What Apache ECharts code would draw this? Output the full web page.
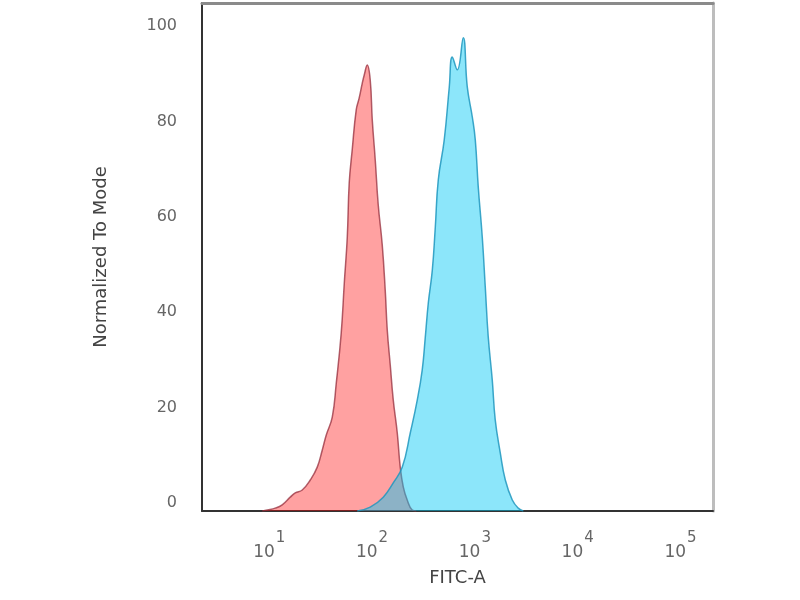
<!DOCTYPE html>
<html>
<head>
<meta charset="utf-8">
<script src="https://cdn.jsdelivr.net/npm/echarts@6/dist/echarts.min.js"></script>
<style>
html,body{margin:0;padding:0;background:#fff;}
#chart{width:800px;height:600px;}
</style>
</head>
<body>
<div id="chart"></div>
<script>
// x values are log10(FITC-A), y values are % of mode
const xTickExponents = [1, 2, 3, 4, 5];
const yTickLabels = [0, 20, 40, 60, 80, 100];

const controlLog = [0.932,0.981,1.058,1.126,1.204,1.253,1.321,1.399,1.467,1.516,1.554,1.613,1.652,1.700,1.730,1.759,1.778,1.807,1.846,1.875,1.905,1.924,1.953,1.982,2.002,2.031,2.060,2.099,2.128,2.148,2.177,2.206,2.245,2.274,2.304,2.342,2.391,2.430];
const controlPct = [0,0.2,0.6,1.3,2.9,3.8,4.4,6.5,9.2,12.8,15.9,19.7,26.8,37.3,47.8,57.4,68.8,75.7,84.1,86.6,89.7,91.4,93.5,90.4,82.0,73.6,64.2,55.8,46.3,37.9,30.6,23.3,16.4,9.2,5.0,2.3,0.2,0];

const stainedLog = [1.856,1.982,2.109,2.206,2.294,2.372,2.440,2.488,2.518,2.547,2.586,2.615,2.644,2.702,2.751,2.780,2.829,2.887,2.926,2.975,3.004,3.033,3.072,3.101,3.130,3.169,3.198,3.247,3.296,3.364,3.422,3.471];
const stainedPct = [0,0.8,2.9,5.9,9.2,16.4,23.3,29.6,36.5,43.6,50.5,59.5,69.4,77.8,88.9,95.2,92.5,99.2,88.9,82.6,77.8,67.9,57.4,47.0,36.5,27.5,19.1,12.2,6.5,2.3,0.6,0];

const X_MIN = 0.346, X_MAX = 5.316;
const Y_MIN = 0, Y_MAX = 106.5;

const zip = (a, b) => a.map((v, i) => [v, b[i]]);

const chart = echarts.init(document.getElementById('chart'));
chart.setOption({
  animation: false,
  backgroundColor: '#ffffff',
  grid: { left: 202, right: 87, top: 3, bottom: 89, show: false },
  xAxis: [{
    type: 'value', min: X_MIN, max: X_MAX, position: 'bottom',
    name: 'FITC-A', nameLocation: 'middle', nameGap: 58,
    nameTextStyle: { fontFamily: 'DejaVu Sans', fontSize: 18, color: '#444' },
    axisLine: { show: true, onZero: false, lineStyle: { color: '#333', width: 2 } },
    axisTick: { show: false }, splitLine: { show: false },
    axisLabel: {
      margin: 16, showMinLabel: false, showMaxLabel: false,
      formatter: v => {
        const k = Math.round(v);
        if (Math.abs(v - k) > 1e-6 || xTickExponents.indexOf(k) < 0) return '';
        return '{b|10}{s|' + k + '}';
      },
      rich: {
        b: { fontFamily: 'DejaVu Sans', fontSize: 17, color: '#666', lineHeight: 34, verticalAlign: 'bottom' },
        s: { fontFamily: 'DejaVu Sans', fontSize: 15, color: '#666', lineHeight: 34, verticalAlign: 'top', padding: [4, 0, 0, 1] }
      }
    }
  }, {
    type: 'value', min: X_MIN, max: X_MAX, position: 'top',
    axisLine: { show: true, onZero: false, lineStyle: { color: '#8a8a8a', width: 3 } },
    axisTick: { show: false }, axisLabel: { show: false }, splitLine: { show: false }
  }],
  yAxis: [{
    type: 'value', min: Y_MIN, max: Y_MAX, position: 'left',
    name: 'Normalized To Mode', nameLocation: 'middle', nameGap: 92,
    nameTextStyle: { fontFamily: 'DejaVu Sans', fontSize: 18, color: '#444' },
    axisLine: { show: true, onZero: false, lineStyle: { color: '#333', width: 2 } },
    axisTick: { show: false }, splitLine: { show: false },
    axisLabel: {
      margin: 25, showMaxLabel: false,
      verticalAlign: 'bottom',
      fontFamily: 'DejaVu Sans', fontSize: 16, color: '#666',
      formatter: v => (yTickLabels.indexOf(Math.round(v)) >= 0 && Math.abs(v - Math.round(v)) < 1e-6) ? String(Math.round(v)) : ''
    }
  }, {
    type: 'value', min: Y_MIN, max: Y_MAX, position: 'right',
    axisLine: { show: true, onZero: false, lineStyle: { color: '#bdbdbd', width: 3 } },
    axisTick: { show: false }, axisLabel: { show: false }, splitLine: { show: false }
  }],
  series: [{
    name: 'Isotype control', type: 'line', xAxisIndex: 0, yAxisIndex: 0,
    data: zip(controlLog, controlPct),
    showSymbol: false, smooth: 0.45,
    lineStyle: { color: 'rgba(150,45,60,0.75)', width: 1.5 },
    areaStyle: { color: 'rgba(255,0,0,0.37)', opacity: 1, origin: 'start' },
    z: 2
  }, {
    name: 'Stained', type: 'line', xAxisIndex: 0, yAxisIndex: 0,
    data: zip(stainedLog, stainedPct),
    showSymbol: false, smooth: 0.45,
    lineStyle: { color: 'rgba(30,150,190,0.85)', width: 1.5 },
    areaStyle: { color: 'rgba(0,200,244,0.45)', opacity: 1, origin: 'start' },
    z: 3
  }]
});
</script>
</body>
</html>
